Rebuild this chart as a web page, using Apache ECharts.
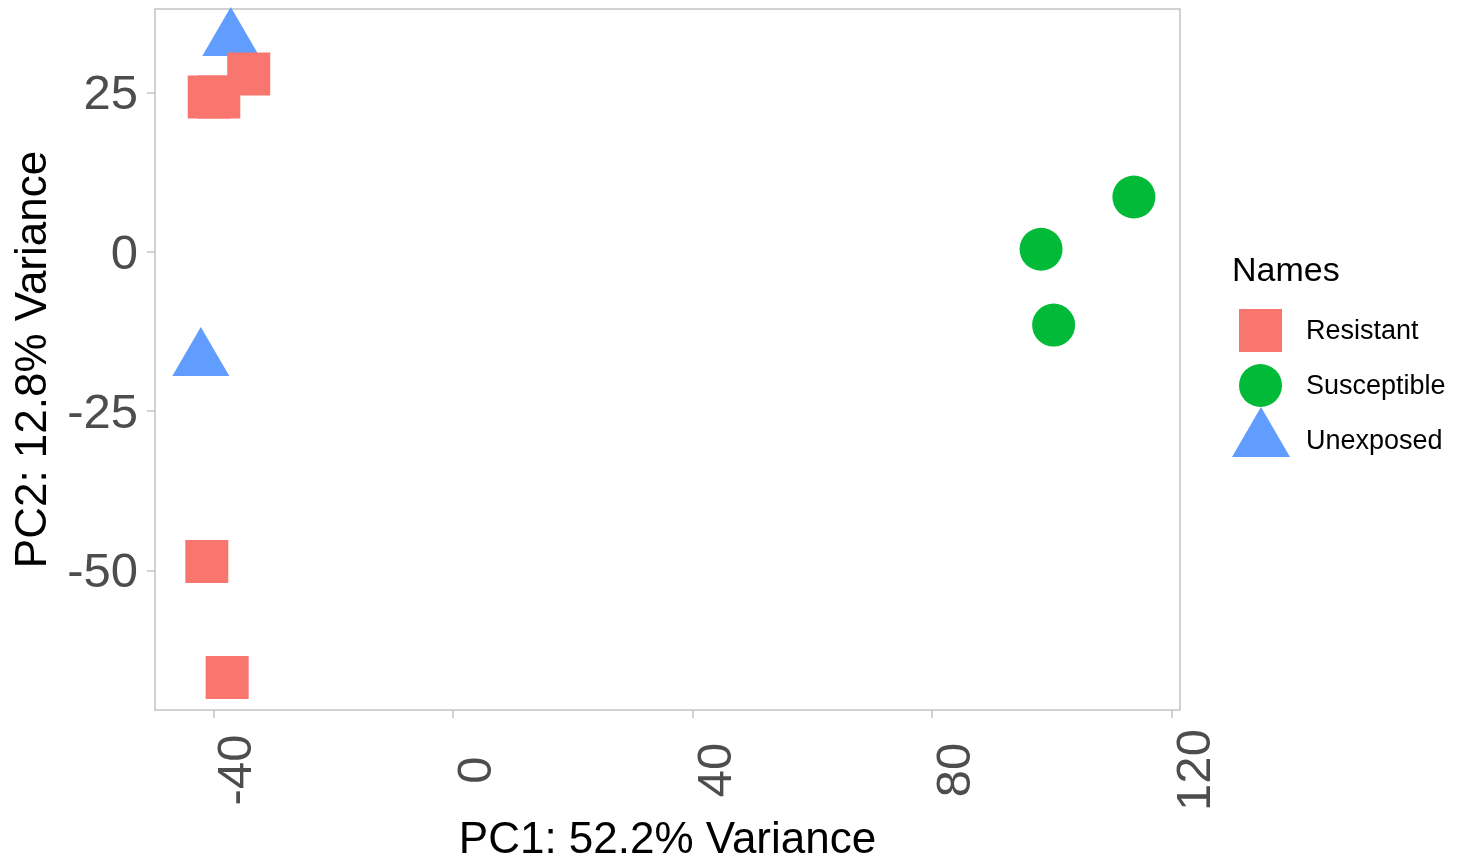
<!DOCTYPE html>
<html>
<head>
<meta charset="utf-8">
<title>PCA</title>
<script src="https://cdn.jsdelivr.net/npm/echarts@6/dist/echarts.min.js"></script>
<style>
  html, body { margin: 0; padding: 0; background: #ffffff; }
  #chart { width: 1468px; height: 862px; }
</style>
</head>
<body>
<div id="chart"></div>
<script>
// Sample scores on the first two principal components, by group
const resistantPC1 = [-40.7, -39.1, -34.1, -41.1, -37.7];
const resistantPC2 = [24.3, 24.3, 27.9, -48.6, -66.8];
const susceptiblePC1 = [113.7, 98.2, 100.3];
const susceptiblePC2 = [8.6, 0.4, -11.5];
const unexposedPC1 = [-37.1, -42.1];
const unexposedPC2 = [33.3, -16.9];

const groupNames = ['Resistant', 'Susceptible', 'Unexposed'];
const xTicks = [-40, 0, 40, 80, 120];
const yTicks = [-50, -25, 0, 25];
const xTitle = 'PC1: 52.2% Variance';
const yTitle = 'PC2: 12.8% Variance';
const legendTitle = 'Names';

const colors = { Resistant: '#F8766D', Susceptible: '#00BA38', Unexposed: '#619CFF' };
const font = "'Liberation Sans', Arial, Helvetica, sans-serif";

function pairs(xs, ys) { return xs.map((x, i) => [x, ys[i]]); }

const chart = echarts.init(document.getElementById('chart'), null, { renderer: 'canvas' });

const axisGray = '#c4c4c4';

// One legend block per group so each key symbol keeps its own size
function groupLegend(name, icon, w, h, left, top, textPad) {
  return {
    data: [name],
    icon: icon,
    orient: 'vertical',
    left: left,
    top: top,
    padding: 0,
    itemWidth: w,
    itemHeight: h,
    selectedMode: false,
    formatter: '{t|{name}}',
    textStyle: {
      fontFamily: font, fontSize: 27, color: '#000',
      rich: { t: { fontFamily: font, fontSize: 27, color: '#000', padding: textPad } }
    }
  };
}

chart.setOption({
  animation: false,
  backgroundColor: '#ffffff',
  title: {
    text: legendTitle,
    left: 1232,
    top: 255,
    padding: 0,
    textStyle: { fontFamily: font, fontSize: 34, fontWeight: 'normal', color: '#000' }
  },
  legend: [
    groupLegend(groupNames[0], 'rect', 43, 43, 1239, 309, [2, 0, 0, 19]),
    groupLegend(groupNames[1], 'circle', 43, 43, 1239, 364, [2, 0, 0, 19]),
    groupLegend(groupNames[2], 'triangle', 58, 50, 1232, 407, [19, 0, 0, 11])
  ],
  grid: {
    left: 155, right: 288, top: 9, bottom: 152,
    outerBoundsMode: 'none',
    containLabel: false,
    show: true, borderColor: axisGray, borderWidth: 1.5, backgroundColor: '#ffffff'
  },
  xAxis: {
    type: 'value',
    min: -49.75,
    max: 121.4,
    name: xTitle,
    nameLocation: 'middle',
    nameGap: 101,
    nameTextStyle: { fontFamily: font, fontSize: 44, color: '#000' },
    axisLine: { show: false, onZero: false },
    splitLine: { show: false },
    axisTick: { show: true, length: 8, customValues: xTicks, lineStyle: { color: axisGray, width: 1.5 } },
    axisLabel: {
      customValues: xTicks,
      rotate: 90,
      align: 'center',
      verticalAlign: 'top',
      margin: 60,
      fontFamily: font,
      fontSize: 49,
      color: '#4d4d4d'
    }
  },
  yAxis: {
    type: 'value',
    min: -71.9,
    max: 38.1,
    name: yTitle,
    nameLocation: 'middle',
    nameGap: 98,
    nameTextStyle: { fontFamily: font, fontSize: 44, color: '#000' },
    axisLine: { show: false, onZero: false },
    splitLine: { show: false },
    axisTick: { show: true, length: 8, customValues: yTicks, lineStyle: { color: axisGray, width: 1.5 } },
    axisLabel: {
      customValues: yTicks,
      margin: 17,
      formatter: '{v|{value}}',
      rich: { v: { fontFamily: font, fontSize: 49, color: '#4d4d4d', padding: [7, 0, 0, 0] } },
      fontFamily: font,
      fontSize: 49,
      color: '#4d4d4d'
    }
  },
  series: [
    {
      name: 'Unexposed',
      type: 'scatter',
      symbol: 'triangle',
      symbolSize: [57, 49],
      symbolOffset: [0, -8],
      itemStyle: { color: colors.Unexposed, opacity: 1 },
      data: pairs(unexposedPC1, unexposedPC2),
      z: 2
    },
    {
      name: 'Resistant',
      type: 'scatter',
      symbol: 'rect',
      symbolSize: 43,
      itemStyle: { color: colors.Resistant, opacity: 1 },
      data: pairs(resistantPC1, resistantPC2),
      z: 3
    },
    {
      name: 'Susceptible',
      type: 'scatter',
      symbol: 'circle',
      symbolSize: 43,
      itemStyle: { color: colors.Susceptible, opacity: 1 },
      data: pairs(susceptiblePC1, susceptiblePC2),
      z: 4
    }
  ]
});
</script>
</body>
</html>
